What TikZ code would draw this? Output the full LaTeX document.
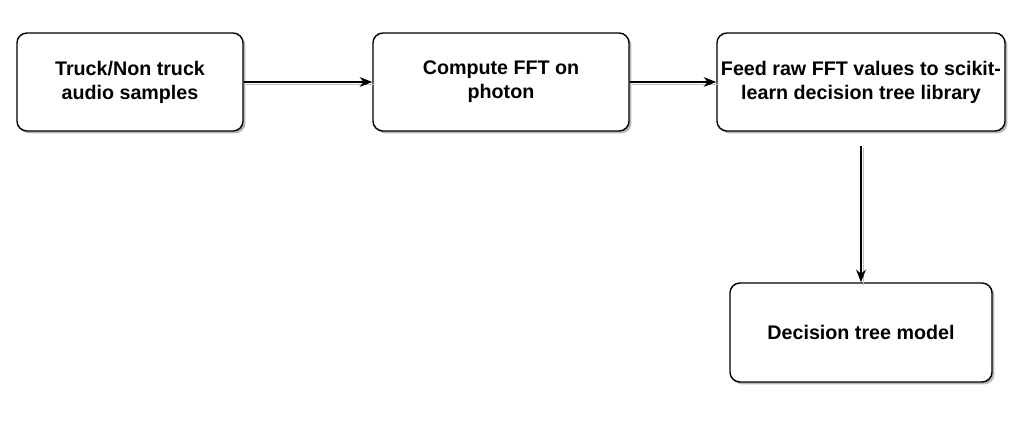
\documentclass[tikz,border=0pt]{standalone}
\usepackage{fontspec}
\setmainfont{Liberation Sans}
\usetikzlibrary{arrows.meta,shadows}

\tikzset{
    caja/.style={draw, line width=1pt, rounded corners=0.25cm, fill=white,
        drop shadow={shadow xshift=0.06cm, shadow yshift=-0.06cm, fill=black!35, opacity=0.8},
        align=center, font=\bfseries\fontsize{14}{17}\selectfont,
        minimum height=2.45cm, inner sep=2pt},
    flecha/.style={line width=0.8pt, -{Stealth[length=9pt,width=7pt]},
        preaction={draw=black!25, line width=1.2pt, -, transform canvas={shift={(0.06cm,-0.06cm)}}}}
}

\begin{document}
\begin{tikzpicture}[x=0.025cm, y=-0.025cm]

    % Fijamos el marco
    \useasboundingbox (0,0) rectangle (1028,421);

    % Dibujamos las cajas
    \node[caja, minimum width=5.65cm] (muestras) at (130,82) {Truck/Non truck\\audio samples};
    \node[caja, minimum width=6.4cm] (fft) at (501,82) {Compute FFT on\\photon};
    \node[caja, minimum width=7.2cm] (scikit) at (861,82) {Feed raw FFT values to scikit-\\learn decision tree library};
    \node[caja, minimum width=6.55cm, minimum height=2.475cm] (modelo) at (861,332.5) {Decision tree model};

    % Unimos las cajas
    \draw[flecha] (muestras.east) -- (fft.west);
    \draw[flecha] (fft.east) -- (scikit.west);
    \coordinate (bajo) at ([yshift=-0.35cm]scikit.south);
    \draw[flecha] (bajo) -- (modelo.north);

\end{tikzpicture}
\end{document}
